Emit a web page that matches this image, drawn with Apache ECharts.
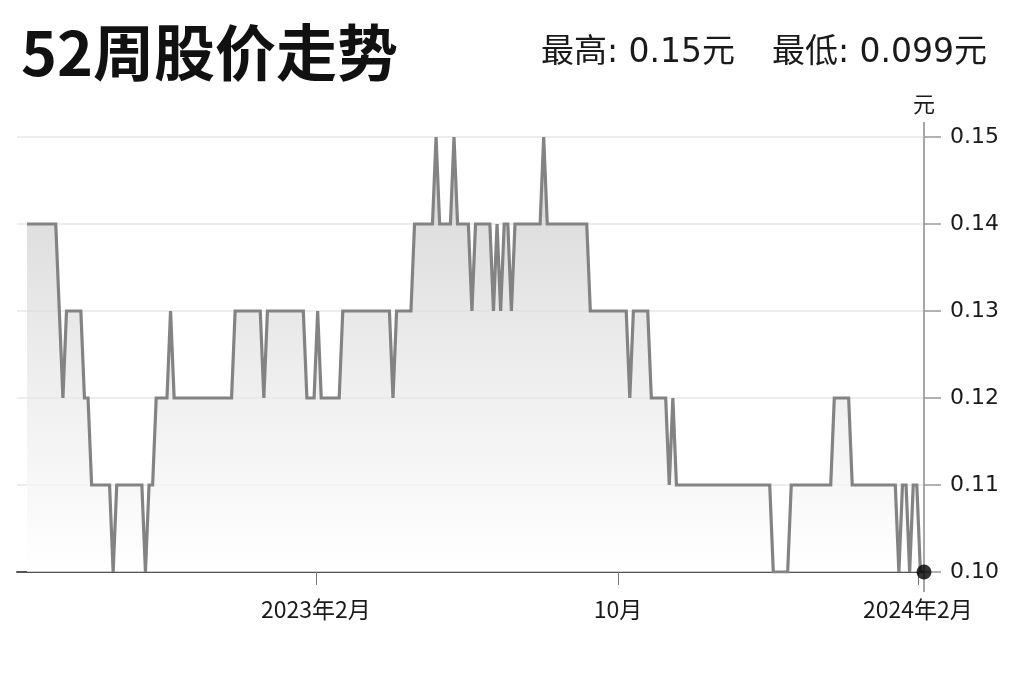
<!DOCTYPE html>
<html>
<head>
<meta charset="utf-8">
<script src="https://cdn.jsdelivr.net/npm/echarts@6/dist/echarts.min.js"></script>
<style>
  html, body { margin: 0; padding: 0; background: #ffffff; }
  #chart { width: 1024px; height: 682px; }
</style>
</head>
<body>
<div id="chart"></div>
<script>
// ---- data (trading-day index, price in 元) ----
const days = [0, 8, 10, 11, 15, 16, 17, 18, 23, 24, 25, 32, 33, 34, 35, 36, 39, 40, 41, 57,
  58, 65, 66, 67, 77, 78, 80, 81, 82, 87, 88, 101, 102, 103, 107, 108, 113, 114, 115, 118,
  119, 120, 123, 124, 125, 129, 130, 131, 132, 133, 134, 135, 136, 143, 144, 145, 156, 157, 167, 168,
  169, 173, 174, 178, 179, 180, 181, 207, 208, 212, 213, 224, 225, 229, 230, 242, 243, 244, 245, 246,
  247, 248, 249, 250];
const prices = [0.14, 0.14, 0.12, 0.13, 0.13, 0.12, 0.12, 0.11, 0.11, 0.10, 0.11, 0.11, 0.10, 0.11, 0.11, 0.12, 0.12, 0.13, 0.12, 0.12,
  0.13, 0.13, 0.12, 0.13, 0.13, 0.12, 0.12, 0.13, 0.12, 0.12, 0.13, 0.13, 0.12, 0.13, 0.13, 0.14, 0.14, 0.15, 0.14, 0.14,
  0.15, 0.14, 0.14, 0.13, 0.14, 0.14, 0.13, 0.14, 0.13, 0.14, 0.14, 0.13, 0.14, 0.14, 0.15, 0.14, 0.14, 0.13, 0.13, 0.12,
  0.13, 0.13, 0.12, 0.12, 0.11, 0.12, 0.11, 0.11, 0.10, 0.10, 0.11, 0.11, 0.12, 0.12, 0.11, 0.11, 0.10, 0.11, 0.11, 0.10,
  0.11, 0.11, 0.10, 0.10];
const tickDays = [80.5, 164.7, 248.3];
const tickLabels = ['2023年2月', '10月', '2024年2月'];
const titleText = '52周股价走势';
const highText = '最高: 0.15元';
const lowText = '最低: 0.099元';
const unitText = '元';

const seriesData = days.map((d, i) => [d, prices[i]]);
const lastPoint = [days[days.length - 1], prices[prices.length - 1]];

const FONT = '"DejaVu Sans", "Noto Sans CJK SC", sans-serif';
const chart = echarts.init(document.getElementById('chart'), null, { renderer: 'canvas' });

chart.setOption({
  animation: false,
  backgroundColor: '#ffffff',
  title: [
    { text: titleText, left: 21, top: 22, padding: 0,
      textStyle: { fontFamily: '"Noto Sans CJK SC", sans-serif', fontSize: 61, fontWeight: 'bold', color: '#111' } },
    { text: highText, right: 289, top: 37, padding: 0,
      textStyle: { fontFamily: FONT, fontSize: 33, fontWeight: 'normal', color: '#1a1a1a' } },
    { text: lowText, right: 37, top: 37, padding: 0,
      textStyle: { fontFamily: FONT, fontSize: 33, fontWeight: 'normal', color: '#1a1a1a' } }
  ],
  grid: { left: 17, right: 100, top: 137, bottom: 110, containLabel: false },
  xAxis: {
    type: 'value', min: -2.8, max: 250,
    axisLine: { show: true, onZero: false, lineStyle: { color: '#555', width: 2 } },
    axisTick: { show: true, customValues: tickDays, length: 13, lineStyle: { color: '#777', width: 1 } },
    axisLabel: {
      show: true, customValues: tickDays, margin: 26,
      fontFamily: '"Noto Sans CJK SC", sans-serif', fontSize: 23, color: '#1a1a1a',
      formatter: function (v) {
        let best = 0;
        tickDays.forEach((t, i) => { if (Math.abs(t - v) < Math.abs(tickDays[best] - v)) best = i; });
        return tickLabels[best];
      }
    },
    splitLine: { show: false }
  },
  yAxis: {
    type: 'value', position: 'right', min: 0.10, max: 0.15, interval: 0.01,
    name: unitText, nameLocation: 'end', nameGap: 22,
    nameTextStyle: { fontFamily: '"Noto Sans CJK SC", sans-serif', fontSize: 22, color: '#1a1a1a', align: 'center' },
    axisLine: { show: true, onZero: false, lineStyle: { color: '#8a8a8a', width: 1.5 } },
    axisTick: { show: true, inside: false, length: 17, lineStyle: { color: '#999', width: 1.5 } },
    axisLabel: {
      margin: 26, fontFamily: FONT, fontSize: 22, color: '#1a1a1a',
      formatter: v => v.toFixed(2)
    },
    splitLine: { show: true, lineStyle: { color: '#ededed', width: 2 } }
  },
  graphic: [
    { type: 'line', shape: { x1: 924, y1: 122, x2: 924, y2: 137 }, style: { stroke: '#8a8a8a', lineWidth: 1.5 } },
    { type: 'line', shape: { x1: 924, y1: 572, x2: 924, y2: 592 }, style: { stroke: '#8a8a8a', lineWidth: 1.5 } }
  ],
  series: [
    {
      type: 'line', data: seriesData, showSymbol: false, symbol: 'none',
      lineStyle: { color: '#838383', width: 3.2, join: 'miter' },
      areaStyle: {
        color: new echarts.graphic.LinearGradient(0, 0, 0, 1, [
          { offset: 0, color: '#c4c4c4' },
          { offset: 0.5, color: '#e4e4e4' },
          { offset: 1, color: '#ffffff' }
        ])
      },
      z: 3
    },
    {
      type: 'scatter', data: [lastPoint], symbol: 'circle', symbolSize: 15,
      itemStyle: { color: '#000' }, z: 10
    }
  ]
});
</script>
</body>
</html>
